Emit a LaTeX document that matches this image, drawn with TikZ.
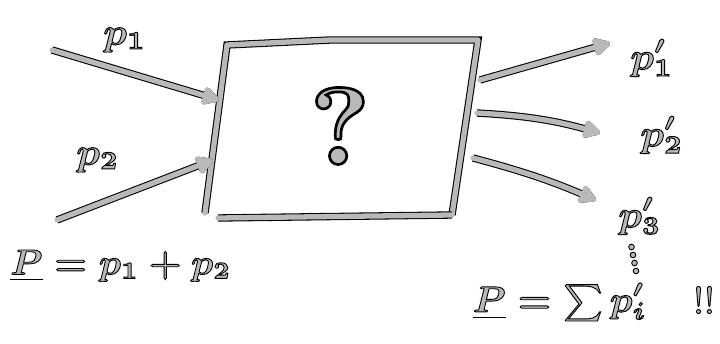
\documentclass[tikz,border=0pt]{standalone}
\usepackage{amsmath,amssymb}
\usepackage{tikz}
\usetikzlibrary{positioning,arrows.meta,calc}
\usepackage{xcolor}
\newcommand{\hw}[1]{\textcolor{gray!55}{\special{pdf:literal direct 0 0 0 RG 0.22 w 2 Tr}#1\special{pdf:literal direct 0 Tr}}}
\tikzset{
  stroke/.style={line width=3pt,draw=gray!55,line cap=round,line join=round,
    preaction={draw=black,line width=4.2pt}},
  momarrow/.style={stroke,-{Triangle[length=11pt,width=11pt,round]}},
  lbl/.style={inner sep=0pt,scale=2.4},
  dotmark/.style={circle,inner sep=0pt,minimum size=3.2pt,fill=gray!55,draw=black,line width=0.5pt}
}

\begin{document}
\begin{tikzpicture}[x=0.02cm,y=-0.02cm,every node/.style={font=\small\boldmath}]
\fill[white] (0,0) rectangle (720,344);
\useasboundingbox (0,0) rectangle (720,344);
\coordinate (tl) at (227,45);
\coordinate (tm) at (330,40);
\coordinate (tr) at (478,40);
\coordinate (br) at (452,215);
\coordinate (bl) at (218,218);
\coordinate (lb) at (205,213);
\draw[stroke] (lb) -- (tl) -- (tm) -- (tr) -- (br);
\draw[stroke] (bl) -- (br);
\node[lbl,scale=2.9,font=\small\bfseries] (q) at (340,126) {\hw{?}};
\node[lbl] (pa) at (125,40) {\hw{$p_1$}};
\node[lbl] (pb) at (98,160) {\hw{$p_2$}};
\node[lbl] (qa) at (652,58) {\hw{$p_1'$}};
\node[lbl] (qb) at (662,135) {\hw{$p_2'$}};
\node[lbl] (qc) at (640,216) {\hw{$p_3'$}};
\foreach \i/\yy in {1/247,2/255,3/263,4/271}
  \node[dotmark] (d\i) at (630+\i*1.5,\yy) {};
\node[lbl,scale=0.94] (tot) at (121,266) {\hw{$\underline{P}=p_1+p_2$}};
\node[lbl,scale=0.96] (sum) at (560,302) {\hw{$\underline{P}=\sum p_i'$}};
\node[lbl] (bang) at (704,300) {\hw{!!}};
\coordinate (sa) at (52,50);
\coordinate (ea) at (219,100);
\coordinate (sb) at (57,220);
\coordinate (eb) at (213,160);
\coordinate (sc) at (480,80);
\coordinate (ec) at (610,43);
\coordinate (sd) at (477,113);
\coordinate (ed) at (600,133);
\coordinate (se) at (473,158);
\coordinate (ee) at (596,200);
\draw[momarrow] (sa) -- (ea);
\draw[momarrow] (sb) -- (eb);
\draw[momarrow] (sc) -- (ec);
\draw[momarrow] (sd) to[bend left=6] (ed);
\draw[momarrow] (se) to[bend left=4] (ee);
\end{tikzpicture}
\end{document}
